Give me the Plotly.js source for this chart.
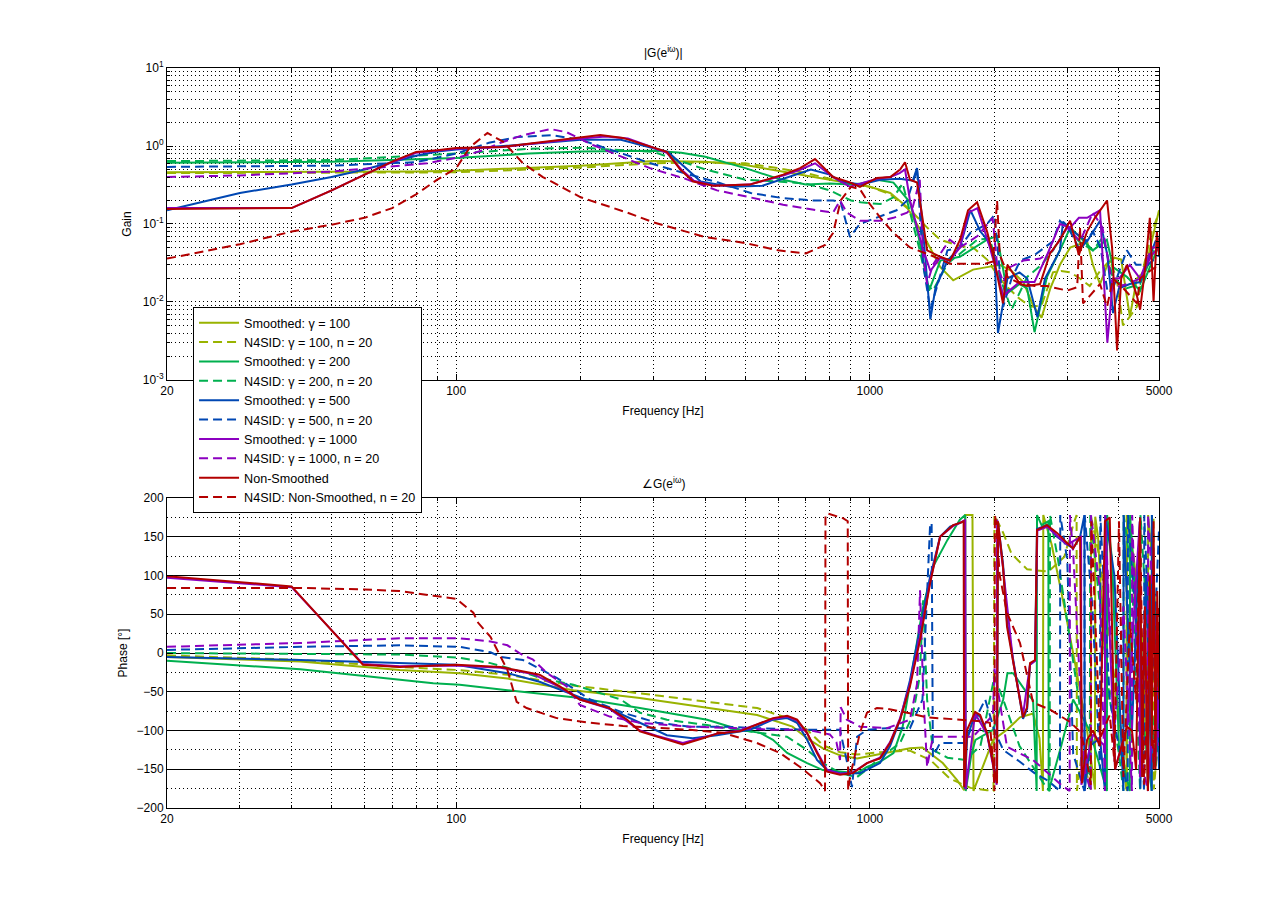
<!DOCTYPE html>
<html>
<head>
<meta charset="utf-8">
<script src="https://cdn.plot.ly/plotly-3.0.1.min.js"></script>
<style>
  html, body { margin: 0; padding: 0; background: #fff; }
  #chart { width: 1281px; height: 908px; }
</style>
</head>
<body>
<div id="chart"></div>
<script>
// Bode plot: smoothed vs N4SID estimates, magnitude (top) and phase (bottom)

const NAMES = [
  'Smoothed: γ = 100', 'N4SID: γ = 100, n = 20',
  'Smoothed: γ = 200', 'N4SID: γ = 200, n = 20',
  'Smoothed: γ = 500', 'N4SID: γ = 500, n = 20',
  'Smoothed: γ = 1000', 'N4SID: γ = 1000, n = 20',
  'Non-Smoothed', 'N4SID: Non-Smoothed, n = 20'
];

// ---- magnitude |G| ----
const fMagS100 = [20, 30, 50, 80, 100, 150, 200, 300, 400, 500, 600, 700, 800, 900, 1000, 1120, 1230, 1350, 1480, 1590, 1776, 1920, 2060, 2200, 2350, 2480, 2600, 2730, 2880, 3050, 3220, 3350, 3460, 3600, 3750, 3900, 4050, 4180, 4250, 4420, 4620, 4800, 5000];
const magS100 = [0.46, 0.46, 0.46, 0.47, 0.48, 0.52, 0.56, 0.64, 0.63, 0.57, 0.48, 0.42, 0.37, 0.33, 0.30, 0.25, 0.165, 0.07, 0.028, 0.019, 0.026, 0.028, 0.03, 0.025, 0.018, 0.009, 0.0063, 0.015, 0.03, 0.05, 0.055, 0.06, 0.03, 0.017, 0.03, 0.037, 0.035, 0.012, 0.0065, 0.02, 0.025, 0.06, 0.15];

const fMagN100 = [20, 50, 100, 200, 300, 400, 500, 600, 700, 800, 900, 1000, 1120, 1270, 1375, 1478, 1650, 1776, 1920, 2060, 2150, 2300, 2450, 2600, 2770, 2900, 3050, 3220, 3400, 3600, 3800, 3950, 4090, 4250, 4420, 4600, 4800, 5000];
const magN100 = [0.45, 0.45, 0.46, 0.53, 0.60, 0.62, 0.60, 0.52, 0.45, 0.38, 0.33, 0.30, 0.24, 0.14, 0.09, 0.063, 0.052, 0.05, 0.035, 0.02, 0.0155, 0.011, 0.0087, 0.009, 0.024, 0.025, 0.024, 0.02, 0.016, 0.025, 0.034, 0.02, 0.005, 0.0065, 0.0087, 0.03, 0.08, 0.14];

const fMagS200 = [20, 50, 100, 150, 200, 300, 350, 400, 500, 600, 700, 800, 900, 950, 1040, 1140, 1250, 1310, 1390, 1480, 1650, 1750, 1920, 2030, 2150, 2300, 2400, 2500, 2680, 2880, 3050, 3200, 3460, 3740, 3870, 4180, 4500, 4940, 5000];
const magS200 = [0.61, 0.63, 0.70, 0.80, 0.85, 0.87, 0.82, 0.73, 0.52, 0.38, 0.32, 0.33, 0.32, 0.33, 0.37, 0.34, 0.19, 0.07, 0.014, 0.034, 0.038, 0.046, 0.063, 0.07, 0.013, 0.017, 0.015, 0.0041, 0.021, 0.046, 0.09, 0.07, 0.046, 0.063, 0.028, 0.021, 0.014, 0.046, 0.05];

const fMagN200 = [20, 50, 100, 150, 200, 300, 400, 500, 600, 700, 800, 900, 950, 1060, 1140, 1200, 1320, 1375, 1420, 1540, 1820, 1950, 2060, 2200, 2400, 2600, 2770, 3000, 3200, 3460, 3660, 3870, 4180, 4500, 4900, 5000];
const magN200 = [0.64, 0.66, 0.80, 0.92, 0.95, 0.84, 0.50, 0.37, 0.35, 0.33, 0.27, 0.20, 0.19, 0.18, 0.22, 0.33, 0.046, 0.017, 0.014, 0.031, 0.063, 0.065, 0.021, 0.008, 0.021, 0.03, 0.046, 0.091, 0.06, 0.046, 0.068, 0.02, 0.015, 0.017, 0.05, 0.06];

const fMagS500 = [20, 30, 40, 50, 60, 70, 80, 90, 100, 130, 160, 200, 250, 300, 325, 390, 460, 550, 620, 720, 800, 850, 950, 1060, 1180, 1270, 1300, 1340, 1400, 1440, 1540, 1650, 1750, 1850, 1920, 2000, 2040, 2150, 2300, 2400, 2540, 2650, 2880, 2930, 3100, 3350, 3600, 3750, 3870, 4000, 4250, 4500, 4900, 5000];
const magS500 = [0.15, 0.25, 0.32, 0.40, 0.50, 0.62, 0.75, 0.85, 0.90, 1.0, 1.1, 1.2, 1.2, 0.95, 0.84, 0.35, 0.30, 0.31, 0.38, 0.50, 0.43, 0.35, 0.32, 0.37, 0.38, 0.36, 0.52, 0.10, 0.006, 0.015, 0.034, 0.05, 0.15, 0.08, 0.063, 0.04, 0.004, 0.02, 0.024, 0.02, 0.0064, 0.02, 0.046, 0.107, 0.08, 0.06, 0.11, 0.04, 0.0072, 0.015, 0.017, 0.018, 0.06, 0.065];

const fMagN500 = [20, 50, 80, 100, 120, 140, 170, 200, 245, 295, 350, 430, 515, 615, 730, 815, 850, 895, 945, 1080, 1160, 1230, 1300, 1345, 1400, 1540, 1650, 1750, 1920, 2000, 2050, 2100, 2200, 2310, 2500, 2770, 2880, 3050, 3220, 3460, 3610, 3750, 3870, 4180, 4400, 4700, 5000];
const magN500 = [0.54, 0.56, 0.62, 0.80, 1.1, 1.3, 1.38, 1.2, 0.84, 0.6, 0.46, 0.34, 0.25, 0.215, 0.2, 0.2, 0.19, 0.068, 0.1, 0.13, 0.15, 0.2, 0.5, 0.03, 0.008, 0.046, 0.05, 0.077, 0.1, 0.13, 0.03, 0.0087, 0.02, 0.034, 0.04, 0.06, 0.11, 0.08, 0.046, 0.08, 0.05, 0.014, 0.015, 0.046, 0.03, 0.03, 0.04];

const fMagS1000 = [20, 40, 50, 60, 70, 80, 100, 130, 160, 200, 230, 260, 300, 323, 350, 375, 420, 510, 620, 680, 737, 815, 895, 950, 1040, 1120, 1180, 1216, 1250, 1340, 1400, 1480, 1560, 1650, 1730, 1820, 1950, 2100, 2300, 2500, 2680, 2880, 3050, 3200, 3350, 3600, 3750, 3870, 4000, 4250, 4500, 4800, 5000];
const magS1000 = [0.16, 0.16, 0.27, 0.43, 0.62, 0.82, 0.92, 0.97, 1.1, 1.25, 1.32, 1.25, 0.95, 0.82, 0.5, 0.36, 0.31, 0.32, 0.42, 0.5, 0.6, 0.4, 0.3, 0.33, 0.38, 0.4, 0.45, 0.5, 0.2, 0.05, 0.025, 0.037, 0.034, 0.05, 0.14, 0.16, 0.05, 0.012, 0.018, 0.018, 0.04, 0.1, 0.09, 0.12, 0.12, 0.15, 0.003, 0.02, 0.02, 0.03, 0.02, 0.04, 0.05];

const fMagN1000 = [20, 30, 50, 85, 102, 116, 128, 145, 169, 185, 214, 245, 294, 353, 427, 513, 617, 745, 815, 847, 880, 946, 1060, 1140, 1230, 1270, 1320, 1345, 1375, 1420, 1560, 1650, 1820, 1980, 2030, 2100, 2180, 2350, 2580, 2770, 3000, 3220, 3460, 3650, 3870, 4180, 4500, 4800, 5000];
const magN1000 = [0.40, 0.42, 0.47, 0.60, 0.72, 0.88, 1.1, 1.38, 1.65, 1.5, 1.03, 0.77, 0.52, 0.39, 0.27, 0.22, 0.177, 0.15, 0.14, 0.2, 0.14, 0.11, 0.11, 0.12, 0.14, 0.165, 0.37, 0.04, 0.017, 0.03, 0.063, 0.05, 0.07, 0.12, 0.03, 0.018, 0.028, 0.034, 0.036, 0.046, 0.09, 0.06, 0.14, 0.09, 0.015, 0.017, 0.02, 0.05, 0.05];

const fMagNS = [20, 40, 50, 60, 70, 80, 90, 100, 128, 160, 200, 223, 253, 299, 323, 348, 374, 418, 513, 617, 678, 737, 815, 895, 946, 1040, 1120, 1183, 1216, 1250, 1300, 1340, 1375, 1480, 1563, 1652, 1727, 1816, 1920, 1985, 2098, 2150, 2306, 2400, 2578, 2726, 2882, 3047, 3200, 3349, 3500, 3744, 3850, 3958, 4050, 4180, 4420, 4500, 4620, 4750, 4850, 4940, 5000];
const magNS = [0.156, 0.16, 0.27, 0.43, 0.63, 0.84, 0.88, 0.94, 0.97, 1.12, 1.3, 1.38, 1.27, 0.97, 0.84, 0.5, 0.35, 0.31, 0.32, 0.43, 0.52, 0.68, 0.4, 0.34, 0.30, 0.39, 0.40, 0.5, 0.62, 0.37, 0.34, 0.12, 0.046, 0.038, 0.034, 0.063, 0.15, 0.19, 0.08, 0.04, 0.0096, 0.03, 0.017, 0.016, 0.017, 0.042, 0.063, 0.11, 0.04, 0.08, 0.12, 0.2, 0.05, 0.0024, 0.02, 0.03, 0.012, 0.008, 0.025, 0.12, 0.01, 0.08, 0.04];

const fMagN4NS = [20, 30, 40, 50, 60, 70, 80, 90, 100, 108, 119, 130, 145, 162, 200, 259, 300, 400, 500, 600, 700, 780, 815, 850, 900, 946, 985, 1060, 1140, 1250, 1400, 1560, 1650, 1900, 1985, 2030, 2060, 2120, 2150, 2270, 2500, 2680, 3000, 3170, 3220, 3275, 3400, 3600, 3744, 3870, 4100, 4420, 4500, 4750, 5000];
const magN4NS = [0.036, 0.055, 0.08, 0.098, 0.12, 0.16, 0.24, 0.37, 0.52, 0.97, 1.47, 1.13, 0.6, 0.4, 0.22, 0.14, 0.105, 0.068, 0.057, 0.046, 0.042, 0.054, 0.077, 0.2, 0.3, 0.28, 0.2, 0.12, 0.077, 0.05, 0.04, 0.031, 0.031, 0.031, 0.033, 0.2, 0.04, 0.028, 0.021, 0.018, 0.016, 0.016, 0.014, 0.0155, 0.09, 0.0096, 0.012, 0.017, 0.0087, 0.02, 0.015, 0.0096, 0.02, 0.025, 0.03];

// ---- phase ∠G [deg] ----
const fPhS100 = [20, 42, 73, 102, 133, 192, 278, 404, 534, 650, 705, 770, 847, 931, 1058, 1250, 1340, 1500, 1625, 1690, 1700, 1770, 1780, 1985, 2145, 2306, 2480, 2570, 2620, 2625, 2750, 2950, 3150, 3350, 3500, 3505, 3560, 3600, 3750, 3900, 4050, 4180, 4185, 4350, 4550, 4700, 4705, 4850, 5000];
const phS100 = [-5, -11, -22, -26, -33, -48, -58, -71, -80, -95, -110, -123, -132, -136, -130, -123, -122, -142, -164, -177, 178, 178, -178, -112, -99, -83, -78, -110, -178, 178, 140, 60, -20, -100, -176, 176, 150, 100, -60, -40, -100, -178, 178, 120, 20, -178, 178, 100, -140];

const fPhN100 = [20, 42, 73, 102, 133, 192, 278, 404, 534, 650, 705, 770, 847, 931, 1058, 1250, 1400, 1560, 1750, 1920, 1990, 2000, 2100, 2200, 2400, 2700, 2950, 3100, 3160, 3165, 3250, 3420, 3425, 3600, 3800, 4000, 4170, 4175, 4300, 4500, 4700, 4850, 4855, 5000];
const phN100 = [-3, -9, -18, -22, -28, -42, -52, -63, -71, -86, -99, -119, -128, -131, -128, -126, -138, -162, -174, -177, -178, 178, 155, 128, 108, 105, 124, 165, 178, -178, -130, -176, 176, 120, 20, -80, -178, 178, 130, -60, 60, 176, -176, -100];

const fPhS200 = [20, 42, 88, 102, 133, 167, 192, 278, 404, 485, 543, 583, 631, 705, 770, 847, 931, 984, 1060, 1140, 1200, 1270, 1340, 1420, 1540, 1650, 1700, 1705, 1760, 1800, 1985, 2100, 2150, 2220, 2400, 2480, 2530, 2535, 2600, 2700, 2705, 2900, 3100, 3400, 3700, 3740, 3745, 3850, 4000, 4250, 4255, 4400, 4600, 4800, 4805, 5000];
const phS200 = [-10, -21, -39, -41, -48, -54, -57, -71, -86, -99, -103, -112, -129, -142, -151, -153, -155, -147, -140, -129, -95, -18, 56, 111, 146, 172, 178, -178, -130, -112, -99, -60, -26, -26, -52, -61, -178, 178, 165, 170, -178, -120, -60, -100, -170, -178, 178, 120, -120, -178, 178, 60, -100, -178, 178, -120];

const fPhN200 = [20, 73, 102, 121, 148, 159, 192, 250, 278, 323, 404, 485, 630, 705, 770, 847, 931, 984, 1060, 1183, 1270, 1320, 1345, 1375, 1420, 1540, 1700, 1850, 1950, 2000, 2100, 2300, 2500, 2680, 2720, 2725, 2850, 3000, 3200, 3400, 3410, 3600, 3800, 4000, 4100, 4105, 4300, 4500, 4510, 4700, 4900, 5000];
const phN200 = [0, -2, -6, -13, -26, -32, -41, -60, -77, -86, -93, -99, -108, -125, -142, -155, -160, -150, -135, -116, -80, -30, 68, -60, -125, -135, -138, -120, -60, -30, -60, -120, -150, -175, -178, 178, 120, 40, -60, -178, 178, 60, -60, -130, -178, 178, 100, -178, 178, 20, -150, -90];

const fPhS500 = [20, 42, 100, 133, 159, 192, 233, 278, 323, 373, 427, 513, 583, 631, 667, 705, 745, 788, 847, 947, 1058, 1119, 1183, 1250, 1322, 1398, 1478, 1563, 1652, 1690, 1695, 1718, 1796, 1847, 1920, 1984, 2029, 2040, 2098, 2145, 2218, 2306, 2345, 2400, 2438, 2507, 2535, 2680, 2834, 2996, 3100, 3222, 3300, 3305, 3400, 3600, 3700, 3705, 3900, 4100, 4105, 4300, 4500, 4505, 4650, 4800, 4805, 5000];
const phS500 = [-5, -9, -15, -26, -37, -54, -71, -90, -106, -110, -106, -99, -86, -84, -90, -112, -138, -151, -155, -155, -142, -120, -86, -35, 34, 98, 150, 163, 168, 170, -175, -110, -78, -82, -105, -140, -165, 168, 115, 40, -5, -60, -85, -72, -15, -10, 160, 165, 150, 140, 135, 150, 178, -178, -120, -110, -178, 178, 100, -178, 178, -100, 175, -175, 100, -178, 178, -150];

const fPhN500 = [20, 42, 73, 102, 121, 128, 145, 175, 211, 253, 306, 367, 442, 533, 704, 847, 880, 905, 931, 984, 1100, 1250, 1340, 1375, 1398, 1410, 1420, 1478, 1550, 1700, 1776, 1900, 2000, 2100, 2300, 2500, 2700, 2880, 2885, 3000, 3100, 3300, 3305, 3450, 3600, 3605, 3800, 4000, 4200, 4205, 4400, 4600, 4605, 4800, 5000];
const phN500 = [4, 8, 10, 8, 1, -5, -9, -32, -60, -77, -90, -95, -95, -97, -99, -99, -140, -173, -108, -99, -97, -97, -60, 81, 165, 168, -134, -116, -116, -116, -91, -60, -100, -125, -140, -155, -165, -178, 178, 120, -130, -178, 178, 60, -150, 178, -60, -120, -178, 178, 40, -178, 178, -60, 160];

const fPhS1000 = [20, 40, 59.5, 73, 100, 128, 153, 178, 199, 235, 278, 306, 353, 395, 427, 485, 543, 583, 631, 667, 705, 745, 788, 847, 910, 984, 1058, 1119, 1183, 1250, 1322, 1398, 1478, 1589, 1652, 1700, 1705, 1796, 1920, 1984, 2025, 2030, 2098, 2218, 2345, 2438, 2507, 2540, 2680, 2996, 3240, 3245, 3460, 3700, 3705, 3914, 4182, 4490, 4495, 4620, 4700, 4800, 4900, 5000];
const phS1000 = [97, 85, -14, -17, -16, -19, -27, -44, -60, -72, -100, -107, -116, -109, -104, -100, -91, -85, -82, -87, -104, -128, -151, -156, -154, -142, -135, -115, -84, -40, 20, 92, 150, 164, 168, 172, -176, -78, -105, -145, -170, 172, 110, -10, -80, -15, -10, 158, 163, 140, 150, -170, -105, -120, 170, -150, -95, 170, -160, 50, -170, -110, -140, -50];

const fPhN1000 = [20, 42, 73, 102, 121, 133, 145, 153, 166, 185, 199, 235, 278, 367, 485, 583, 704, 800, 830, 847, 850, 880, 947, 1100, 1250, 1300, 1322, 1345, 1375, 1420, 1600, 1776, 1984, 2000, 2145, 2480, 2900, 3040, 3045, 3100, 3300, 3420, 3425, 3600, 3700, 3705, 3900, 4100, 4300, 4305, 4500, 4700, 4705, 4900, 5000];
const phN1000 = [8, 13, 19, 19, 15, 10, -3, -8, -26, -43, -67, -82, -90, -95, -97, -99, -99, -105, -115, -138, -70, -86, -95, -97, -86, -40, 81, -48, -147, -108, -108, -108, -80, -20, -121, -138, -170, -178, 178, 130, -150, -178, 178, 80, -178, 178, -100, 60, -178, 178, -130, -178, 178, 20, -120];

const fPhNS = [20, 40, 59.5, 73, 100, 128, 153, 159, 178, 199, 235, 259, 278, 306, 353, 395, 427, 485, 543, 583, 631, 667, 705, 745, 788, 847, 910, 984, 1058, 1119, 1183, 1250, 1322, 1398, 1478, 1589, 1652, 1685, 1690, 1718, 1796, 1847, 1920, 1984, 2029, 2040, 2098, 2145, 2218, 2306, 2345, 2398, 2438, 2507, 2535, 2680, 2834, 2996, 3100, 3222, 3257, 3350, 3460, 3600, 3700, 3800, 3914, 4182, 4300, 4400, 4496, 4550, 4620, 4700, 4750, 4800, 4850, 4900, 4950, 5000];
const phNS = [99, 86, -15, -18, -15, -18, -26, -28, -43, -60, -71, -86, -101, -108, -118, -110, -104, -101, -90, -84, -81, -86, -103, -129, -153, -157, -155, -142, -136, -116, -86, -43, 17, 90, 150, 165, 168, 170, -173, -99, -76, -80, -103, -142, -168, 170, 111, 34, -9, -57, -83, -70, -13, -9, 159, 165, 155, 142, 135, 150, -168, -112, -100, -120, 170, 175, -150, -95, -100, -150, 170, -160, 60, -178, 100, -120, 170, -150, 80, -60];

const fPhN4NS = [20, 42, 60, 73, 88, 100, 110, 113, 121, 133, 140, 148, 175, 211, 253, 306, 367, 442, 533, 606, 678, 758, 779, 781, 790, 861, 884, 886, 895, 946, 984, 1040, 1100, 1230, 1375, 1653, 1847, 1950, 1990, 2000, 2005, 2020, 2060, 2145, 2306, 2480, 2726, 3047, 3200, 3300, 3420, 3430, 3600, 3800, 3900, 4000, 4100, 4250, 4400, 4500, 4600, 4750, 4850, 5000];
const phN4NS = [84, 84, 82, 80, 74, 70, 52, 39, 21, -22, -63, -71, -84, -90, -94, -97, -99, -103, -116, -129, -147, -168, -178, 178, 180, 174, 170, -177, -160, -103, -77, -71, -72, -77, -83, -86, -88, -90, -150, -178, 178, 168, 100, 52, 13, -64, -73, -89, -100, -120, -170, 170, -110, -80, -140, 170, -160, 40, -60, 175, -170, 20, -150, 60];

// ---- ticks ----
const X_TICKS = [20, 100, 1000, 5000];
const X_LABELS = ['20', '100', '1000', '5000'];
const X_MINOR = [30, 40, 50, 60, 70, 80, 90, 200, 300, 400, 500, 600, 700, 800, 900, 2000, 3000, 4000];
const GAIN_DECADES = [-3, -2, -1, 0, 1];
const PHASE_TICKS = [-200, -150, -100, -50, 0, 50, 100, 150, 200];

const COLORS = ['#99b300', '#99b300', '#00b04f', '#00b04f', '#0047b3', '#0047b3', '#8c00c0', '#8c00c0', '#b30000', '#b30000'];
const DASHED = '9px,5px';
const GRID_DOT = '1px,3px';

const magX = [fMagS100, fMagN100, fMagS200, fMagN200, fMagS500, fMagN500, fMagS1000, fMagN1000, fMagNS, fMagN4NS];
const magY = [magS100, magN100, magS200, magN200, magS500, magN500, magS1000, magN1000, magNS, magN4NS];
const phX = [fPhS100, fPhN100, fPhS200, fPhN200, fPhS500, fPhN500, fPhS1000, fPhN1000, fPhNS, fPhN4NS];
const phY = [phS100, phN100, phS200, phN200, phS500, phN500, phS1000, phN1000, phNS, phN4NS];

function lineStyle(i) {
  return { color: COLORS[i], width: 2, dash: i % 2 ? DASHED : 'solid' };
}

function minorGrid(extra) {
  return Object.assign({
    ticks: 'inside', ticklen: 3, tickcolor: '#000',
    showgrid: true, gridcolor: '#000', gridwidth: 1, griddash: GRID_DOT
  }, extra);
}

function axisBox() {
  return {
    ticks: 'inside', ticklen: 6, tickcolor: '#000',
    showline: true, linecolor: '#000', linewidth: 1, mirror: 'ticks',
    showgrid: true, gridcolor: '#000', gridwidth: 1, griddash: GRID_DOT,
    zeroline: false, tickfont: { size: 12 }
  };
}

function freqAxis(anchor) {
  return Object.assign(axisBox(), {
    type: 'log', range: [Math.log10(20), Math.log10(5000)], domain: [0.1304, 0.9048],
    anchor, tickmode: 'array', tickvals: X_TICKS, ticktext: X_LABELS,
    minor: minorGrid({ tickmode: 'array', tickvals: X_MINOR }),
    title: { text: 'Frequency [Hz]', font: { size: 12 }, standoff: 9 }
  });
}

const gainMajor = GAIN_DECADES.map(d => Math.pow(10, d));
const gainLabels = GAIN_DECADES.map(d => `10<sup>${d}</sup>`);
const gainMinor = [];
GAIN_DECADES.slice(0, -1).forEach(d => {
  for (let m = 2; m <= 9; m++) gainMinor.push(m * Math.pow(10, d));
});

const traces = [];
NAMES.forEach((name, i) => {
  traces.push({
    type: 'scatter', mode: 'lines', name, legendgroup: 'g' + i,
    x: magX[i], y: magY[i], xaxis: 'x', yaxis: 'y', line: lineStyle(i)
  });
});
NAMES.forEach((name, i) => {
  traces.push({
    type: 'scatter', mode: 'lines', name, legendgroup: 'g' + i, showlegend: false,
    x: phX[i], y: phY[i], xaxis: 'x2', yaxis: 'y2', line: lineStyle(i)
  });
});

const layout = {
  width: 1281, height: 908,
  margin: { l: 0, r: 0, t: 0, b: 0 },
  paper_bgcolor: '#fff', plot_bgcolor: '#fff',
  font: { family: 'Liberation Sans, Arial, sans-serif', size: 12, color: '#000' },
  showlegend: true,
  legend: {
    x: 0.1507, y: 0.6619, xanchor: 'left', yanchor: 'top',
    bgcolor: '#fff', bordercolor: '#000', borderwidth: 1,
    font: { size: 12.6 }, tracegroupgap: 3.9, traceorder: 'normal', itemwidth: 40
  },
  xaxis: freqAxis('y'),
  yaxis: Object.assign(axisBox(), {
    type: 'log', range: [-3, 1], domain: [0.5815, 0.9251], anchor: 'x',
    tickmode: 'array', tickvals: gainMajor, ticktext: gainLabels,
    minor: minorGrid({ tickmode: 'array', tickvals: gainMinor }),
    title: { text: 'Gain', font: { size: 12 }, standoff: 8 }
  }),
  xaxis2: freqAxis('y2'),
  yaxis2: Object.assign(axisBox(), {
    range: [-200, 200], domain: [0.1101, 0.4515], anchor: 'x2',
    tickmode: 'array', tickvals: PHASE_TICKS,
    griddash: 'solid',
    minor: minorGrid({ dtick: 25, tick0: 25, ticks: '' }),
    title: { text: 'Phase [°]', font: { size: 12 }, standoff: 6 }
  }),
  annotations: [
    { text: '|G(e<sup>iω</sup>)|', xref: 'paper', yref: 'paper', x: 0.5176, y: 0.9427,
      xanchor: 'center', yanchor: 'middle', showarrow: false, font: { size: 12 } },
    { text: '∠G(e<sup>iω</sup>)', xref: 'paper', yref: 'paper', x: 0.5176, y: 0.468,
      xanchor: 'center', yanchor: 'middle', showarrow: false, font: { size: 12 } }
  ]
};

Plotly.newPlot('chart', traces, layout, { displayModeBar: false, staticPlot: true });
</script>
</body>
</html>
